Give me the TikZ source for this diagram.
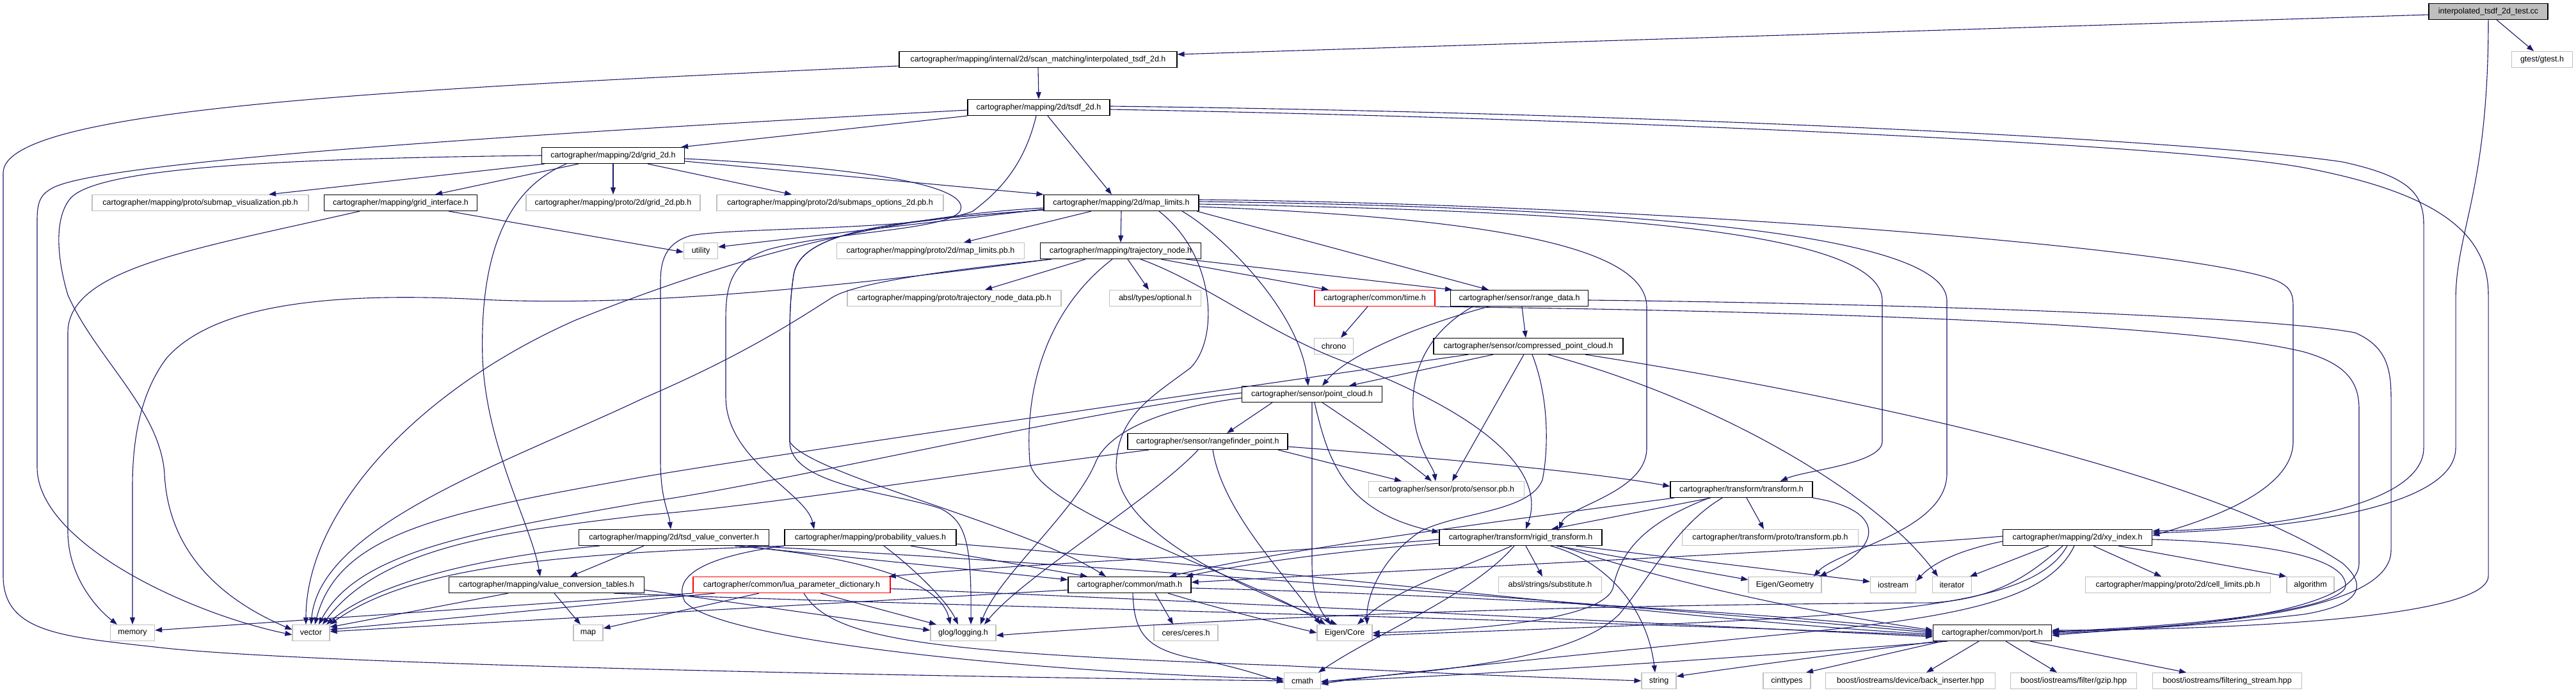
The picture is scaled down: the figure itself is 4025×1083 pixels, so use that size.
\documentclass[tikz,border=0pt]{standalone}
\usepackage{fontspec}
\setmainfont{Liberation Sans}
\usetikzlibrary{arrows.meta}
\definecolor{edgeblue}{HTML}{191970}
\definecolor{extgray}{HTML}{BFBFBF}
\tikzset{
  box/.style={rectangle, minimum height=25pt, inner sep=0pt, font=\fontsize{12.5}{14}\selectfont, line width=1.2pt},
  doc/.style={box, draw=black},
  ext/.style={box, draw=extgray},
  trunc/.style={box, draw=red},
  root/.style={box, draw=black, fill=extgray},
  dep/.style={draw=edgeblue, line width=1.1pt, -{Triangle[length=11pt,width=8pt]}}
}
\begin{document}
\begin{tikzpicture}[x=1pt,y=-1pt]
\useasboundingbox (0,0) rectangle (4025,1083);
% nodes
\node[root, minimum width=186pt] (test) at (3888,18) {interpolated\_tsdf\_2d\_test.cc};
\node[doc, minimum width=434pt] (interp) at (1622,93) {cartographer/mapping/internal/2d/scan\_matching/interpolated\_tsdf\_2d.h};
\node[ext, minimum width=95pt] (gtest) at (3972,93) {gtest/gtest.h};
\node[doc, minimum width=222pt] (tsdf) at (1623,168) {cartographer/mapping/2d/tsdf\_2d.h};
\node[doc, minimum width=223pt] (grid2d) at (958,243) {cartographer/mapping/2d/grid\_2d.h};
\node[ext, minimum width=338pt] (subvis) at (313,317) {cartographer/mapping/proto/submap\_visualization.pb.h};
\node[doc, minimum width=239pt] (gridif) at (626,317) {cartographer/mapping/grid\_interface.h};
\node[ext, minimum width=272pt] (grid2dpb) at (958,317) {cartographer/mapping/proto/2d/grid\_2d.pb.h};
\node[ext, minimum width=354pt] (submopt) at (1297,317) {cartographer/mapping/proto/2d/submaps\_options\_2d.pb.h};
\node[doc, minimum width=242pt] (maplim) at (1752,317) {cartographer/mapping/2d/map\_limits.h};
\node[ext, minimum width=53pt] (utility) at (1095,392) {utility};
\node[ext, minimum width=293pt] (maplimpb) at (1454,392) {cartographer/mapping/proto/2d/map\_limits.pb.h};
\node[doc, minimum width=251pt] (trajnode) at (1751,392) {cartographer/mapping/trajectory\_node.h};
\node[ext, minimum width=334pt] (trajdata) at (1491,466) {cartographer/mapping/proto/trajectory\_node\_data.pb.h};
\node[ext, minimum width=143pt] (optional) at (1805,466) {absl/types/optional.h};
\node[trunc, minimum width=188pt] (time) at (2148,466) {cartographer/common/time.h};
\node[doc, minimum width=215pt] (rangedata) at (2374,466) {cartographer/sensor/range\_data.h};
\node[ext, minimum width=61pt] (chrono) at (2084,541) {chrono};
\node[doc, minimum width=296pt] (compressed) at (2388,541) {cartographer/sensor/compressed\_point\_cloud.h};
\node[doc, minimum width=219pt] (pointcloud) at (2050,616) {cartographer/sensor/point\_cloud.h};
\node[doc, minimum width=250pt] (rangefinder) at (1887,690) {cartographer/sensor/rangefinder\_point.h};
\node[ext, minimum width=243pt] (sensorpb) at (2260,765) {cartographer/sensor/proto/sensor.pb.h};
\node[doc, minimum width=222pt] (transform) at (2721,765) {cartographer/transform/transform.h};
\node[doc, minimum width=297pt] (tsdval) at (1053,840) {cartographer/mapping/2d/tsd\_value\_converter.h};
\node[doc, minimum width=268pt] (probval) at (1360,840) {cartographer/mapping/probability\_values.h};
\node[doc, minimum width=254pt] (rigid) at (2376,840) {cartographer/transform/rigid\_transform.h};
\node[ext, minimum width=275pt] (transformpb) at (2766,840) {cartographer/transform/proto/transform.pb.h};
\node[doc, minimum width=233pt] (xy) at (3246,840) {cartographer/mapping/2d/xy\_index.h};
\node[doc, minimum width=305pt] (valconv) at (854,914) {cartographer/mapping/value\_conversion\_tables.h};
\node[trunc, minimum width=308pt] (lua) at (1237,914) {cartographer/common/lua\_parameter\_dictionary.h};
\node[doc, minimum width=192pt] (math) at (1765,914) {cartographer/common/math.h};
\node[ext, minimum width=161pt] (substitute) at (2422,914) {absl/strings/substitute.h};
\node[ext, minimum width=114pt] (eigengeo) at (2789,914) {Eigen/Geometry};
\node[ext, minimum width=71pt] (iostream) at (2958,914) {iostream};
\node[ext, minimum width=61pt] (iterator) at (3050,914) {iterator};
\node[ext, minimum width=289pt] (celllimits) at (3403,914) {cartographer/mapping/proto/2d/cell\_limits.pb.h};
\node[ext, minimum width=74pt] (algorithm) at (3610,914) {algorithm};
\node[ext, minimum width=69pt] (memory) at (207,989) {memory};
\node[ext, minimum width=58pt] (vector) at (486,989) {vector};
\node[ext, minimum width=46pt] (map) at (919,989) {map};
\node[ext, minimum width=102pt] (glog) at (1505,989) {glog/logging.h};
\node[ext, minimum width=100pt] (ceres) at (1853,989) {ceres/ceres.h};
\node[ext, minimum width=86pt] (eigencore) at (2101,989) {Eigen/Core};
\node[doc, minimum width=185pt] (port) at (3113,989) {cartographer/common/port.h};
\node[ext, minimum width=57pt] (cmath) at (2035,1064) {cmath};
\node[ext, minimum width=54pt] (string) at (2592,1064) {string};
\node[ext, minimum width=74pt] (cinttypes) at (2792,1064) {cinttypes};
\node[ext, minimum width=265pt] (backins) at (2985,1064) {boost/iostreams/device/back\_inserter.hpp};
\node[ext, minimum width=197pt] (gzip) at (3240,1064) {boost/iostreams/filter/gzip.hpp};
\node[ext, minimum width=233pt] (filtstream) at (3480,1064) {boost/iostreams/filtering\_stream.hpp};

% test
\draw[dep] ([yshift=-5pt]test.west) -- ([yshift=8pt]interp.east);
\draw[dep] ([xshift=13pt]test.south) -- ([xshift=-13pt]gtest.north);
\draw[dep] (test.south) .. controls (3888,300) and (3837,360) .. (3837,470) -- (3837,700) .. controls (3837,790) and (3600,826) .. ([yshift=7pt]xy.east);
% interp
\draw[dep] (interp.south) -- (tsdf.north);
\draw[dep] ([yshift=-10pt]interp.west) .. controls (600,140) and (5,170) .. (5,270) -- (5,900) .. controls (5,990) and (100,995) .. (250,1012) .. controls (500,1040) and (1500,1058) .. (cmath.west);
% tsdf
\draw[dep] ([yshift=-4pt]tsdf.west) .. controls (900,205) and (150,250) .. (80,295) .. controls (62,305) and (58,318) .. (58,345) -- (58,730) .. controls (58,850) and (300,960) .. ([yshift=-3pt]vector.west);
\draw[dep] (tsdf.south west) -- ([xshift=-6pt]grid2d.north east);
\draw[dep] ([xshift=-4pt]tsdf.south) .. controls (1600,260) and (1560,300) .. (1520,330) .. controls (1450,360) and (1150,355) .. (1080,368) .. controls (1045,378) and (1032,400) .. (1032,440) -- (1032,720) .. controls (1032,780) and (1045,800) .. ([xshift=-5pt]tsdval.north);
\draw[dep] ([xshift=14pt]tsdf.south) -- ([xshift=-15pt]maplim.north);
\draw[dep] ([yshift=2pt]tsdf.east) .. controls (2500,175) and (3400,215) .. (3660,253) .. controls (3760,275) and (3787,300) .. (3787,350) -- (3787,700) .. controls (3787,790) and (3560,826) .. ([yshift=10pt]xy.east);
\draw[dep] ([yshift=-3pt]tsdf.east) .. controls (2500,185) and (3400,225) .. (3600,262) .. controls (3800,300) and (3888,360) .. (3888,460) -- (3888,900) .. controls (3888,965) and (3500,984) .. ([yshift=4pt]port.east);
% grid2d
\draw[dep] (grid2d.west) .. controls (400,248) and (150,265) .. (110,310) .. controls (85,340) and (88,400) .. (106,461) .. controls (150,560) and (250,640) .. (257,740) .. controls (262,850) and (330,930) .. ([yshift=5pt]vector.west);
\draw[dep] ([xshift=5pt]grid2d.south west) -- ([xshift=107pt]subvis.north);
\draw[dep] ([xshift=-54pt]grid2d.south) -- ([xshift=54pt]gridif.north);
\draw[dep] ([xshift=-73pt]grid2d.south) .. controls (780,300) and (750,420) .. (754,560) .. controls (760,700) and (830,820) .. ([xshift=-10pt]valconv.north);
\draw[dep] (grid2d.south) -- (grid2dpb.north);
\draw[dep] ([xshift=54pt]grid2d.south) -- ([xshift=-60pt]submopt.north);
\draw[dep] ([yshift=-9pt]grid2d.east) -- (maplim.north west);
\draw[dep] ([yshift=-5pt]grid2d.east) .. controls (1350,262) and (1520,290) .. (1500,330) .. controls (1480,360) and (1300,362) .. (1200,390) .. controls (1140,410) and (1134,450) .. (1134,500) -- (1134,620) .. controls (1134,720) and (1260,770) .. ([xshift=-88pt]probval.north);
% grid interface
\draw[dep] ([xshift=-64pt]gridif.south) .. controls (300,390) and (106,420) .. (106,520) -- (106,830) .. controls (106,900) and (150,950) .. ([xshift=-24pt]memory.north);
\draw[dep] ([xshift=75pt]gridif.south) -- ([yshift=-2pt]utility.west);
% map limits
\draw[dep] ([yshift=-10pt]maplim.west) -- ([yshift=6pt]utility.east);
\draw[dep] ([xshift=-47pt]maplim.south) -- ([xshift=52pt]maplimpb.north);
\draw[dep] (maplim.south) -- (trajnode.north);
\draw[dep] ([yshift=-8pt]maplim.west) .. controls (1350,340) and (1100,420) .. (900,500) .. controls (650,610) and (478,800) .. ([xshift=-8pt]vector.north);
\draw[dep] ([yshift=-11pt]maplim.west) .. controls (1400,345) and (1250,360) .. (1240,430) .. controls (1234,470) and (1234,500) .. (1234,540) -- (1234,690) .. controls (1234,760) and (1400,770) .. (1470,795) .. controls (1510,815) and (1518,850) .. ([xshift=12pt]glog.north);
\draw[dep] ([yshift=-11pt]maplim.west) .. controls (1400,345) and (1250,360) .. (1240,430) .. controls (1234,470) and (1234,500) .. (1234,540) -- (1234,690) .. controls (1260,740) and (1600,820) .. ([xshift=-37pt]math.north);
\draw[dep] ([xshift=59pt]maplim.south) .. controls (1900,400) and (1905,530) .. (1860,575) .. controls (1800,620) and (1745,650) .. (1744,730) .. controls (1750,840) and (1950,920) .. ([xshift=-12pt]eigencore.north);
\draw[dep] ([xshift=95pt]maplim.south) .. controls (1900,360) and (2030,480) .. ([xshift=-6pt]pointcloud.north);
\draw[dep] ([xshift=118pt]maplim.south) -- ([xshift=-48pt]rangedata.north);
\draw[dep] ([yshift=-6pt]maplim.east) .. controls (2300,340) and (2573,380) .. (2573,480) -- (2573,700) .. controls (2573,770) and (2450,790) .. ([xshift=60pt]rigid.north);
\draw[dep] ([yshift=-2pt]maplim.east) .. controls (2500,330) and (2941,360) .. (2941,470) -- (2941,690) .. controls (2941,725) and (2820,735) .. ([xshift=61pt]transform.north);
\draw[dep] ([yshift=2pt]maplim.east) .. controls (2600,325) and (3042,370) .. (3042,470) -- (3042,740) .. controls (3042,830) and (2870,860) .. ([xshift=45pt]eigengeo.north);
\draw[dep] ([yshift=5pt]maplim.east) .. controls (2600,320) and (3450,390) .. (3560,440) .. controls (3580,450) and (3583,460) .. (3583,480) -- (3583,690) .. controls (3583,770) and (3440,815) .. ([yshift=3pt]xy.east);
% trajectory node
\draw[dep] ([xshift=-110pt]trajnode.south) .. controls (1300,450) and (1000,480) .. (751,468) .. controls (500,455) and (330,480) .. (260,560) .. controls (215,620) and (207,700) .. (207,760) -- (memory.north);
\draw[dep] ([xshift=-108pt]trajnode.south) .. controls (1500,420) and (1340,440) .. (1300,465) .. controls (1230,510) and (1150,560) .. (1006,622) .. controls (800,720) and (500,820) .. ([xshift=0pt]vector.north);
\draw[dep] ([xshift=-55pt]trajnode.south) -- ([xshift=48pt]trajdata.north);
\draw[dep] ([xshift=11pt]trajnode.south) -- ([xshift=-10pt]optional.north);
\draw[dep] ([xshift=63pt]trajnode.south) -- ([xshift=-72pt]time.north);
\draw[dep] ([xshift=102pt]trajnode.south) -- ([xshift=-105pt]rangedata.north);
\draw[dep] ([xshift=-13pt]trajnode.south) .. controls (1640,480) and (1600,600) .. (1609,722) .. controls (1620,800) and (1950,900) .. ([xshift=-30pt]eigencore.north);
\draw[dep] ([xshift=31pt]trajnode.south) .. controls (1880,440) and (1980,520) .. (2100,565) .. controls (2300,640) and (2420,730) .. ([xshift=8pt]rigid.north);
% time
\draw[dep] ([xshift=-11pt]time.south) -- ([xshift=11pt]chrono.north);
\draw[dep] (time.south east) .. controls (2700,485) and (3400,500) .. (3600,550) .. controls (3670,570) and (3686,600) .. (3686,640) -- (3686,880) .. controls (3686,960) and (3400,982) .. ([yshift=-1pt]port.east);
% range data
\draw[dep] ([xshift=4pt]rangedata.south) -- ([xshift=-4pt]compressed.north);
\draw[dep] ([xshift=-48pt]rangedata.south) .. controls (2230,505) and (2110,550) .. ([xshift=16pt]pointcloud.north);
\draw[dep] ([xshift=-73pt]rangedata.south) .. controls (2230,520) and (2205,580) .. (2208,640) .. controls (2212,700) and (2240,730) .. ([xshift=-17pt]sensorpb.north);
\draw[dep] ([yshift=-3pt]rangedata.east) .. controls (3000,475) and (3550,495) .. (3680,520) .. controls (3725,540) and (3736,570) .. (3736,620) -- (3736,860) .. controls (3736,960) and (3420,980) .. ([yshift=1pt]port.east);
% compressed
\draw[dep] ([xshift=-94pt]compressed.south) .. controls (1700,640) and (1200,712) .. (1006,745) .. controls (700,800) and (530,830) .. ([xshift=6pt]vector.north);
\draw[dep] ([xshift=-55pt]compressed.south) -- ([xshift=58pt]pointcloud.north);
\draw[dep] ([xshift=-7pt]compressed.south) -- ([xshift=9pt]sensorpb.north);
\draw[dep] ([xshift=6pt]compressed.south) .. controls (2420,620) and (2420,700) .. (2410,750) .. controls (2390,800) and (2280,800) .. (2220,830) .. controls (2160,870) and (2135,930) .. ([xshift=35pt]eigencore.north);
\draw[dep] ([xshift=31pt]compressed.south) .. controls (2700,630) and (2940,780) .. ([xshift=-22pt]iterator.north);
\draw[dep] ([xshift=89pt]compressed.south) .. controls (2900,620) and (3450,740) .. (3660,880) .. controls (3700,915) and (3690,945) .. (3600,960) .. controls (3450,978) and (3300,984) .. ([yshift=-4pt]port.east);
% point cloud
\draw[dep] ([yshift=2pt]pointcloud.west) .. controls (1700,640) and (1200,760) .. (1006,785) .. controls (750,830) and (560,860) .. ([xshift=12pt]vector.north);
\draw[dep] ([xshift=-62pt]pointcloud.south) -- ([xshift=30pt]rangefinder.north);
\draw[dep] ([xshift=16pt]pointcloud.south) .. controls (2140,678) and (2200,722) .. ([xshift=-23pt]sensorpb.north);
\draw[dep] (pointcloud.south) -- (2050,880) .. controls (2050,930) and (2060,950) .. ([xshift=-22pt]eigencore.north);
\draw[dep] ([xshift=4pt]pointcloud.south) .. controls (2075,720) and (2100,800) .. ([yshift=8pt]rigid.west);
\draw[dep] ([yshift=-6pt]pointcloud.west) .. controls (1800,640) and (1730,680) .. (1712,722) .. controls (1680,800) and (1560,900) .. ([xshift=27pt]glog.north);
% rangefinder
\draw[dep] ([xshift=-92pt]rangefinder.south) .. controls (1500,740) and (1200,790) .. (1006,805) .. controls (800,830) and (600,850) .. ([xshift=18pt]vector.north);
\draw[dep] ([xshift=110pt]rangefinder.south) -- ([xshift=-70pt]sensorpb.north);
\draw[dep] ([yshift=-8pt]rangefinder.east) .. controls (2300,720) and (2500,740) .. ([yshift=5pt]transform.west);
\draw[dep] ([xshift=8pt]rangefinder.south) .. controls (1910,800) and (2010,900) .. ([xshift=-38pt]eigencore.north);
\draw[dep] ([xshift=-15pt]rangefinder.south) .. controls (1800,780) and (1600,900) .. ([xshift=33pt]glog.north);
% transform
\draw[dep] ([xshift=-48pt]transform.south) -- ([xshift=48pt]rigid.north);
\draw[dep] ([xshift=8pt]transform.south) -- ([xshift=-10pt]transformpb.north);
\draw[dep] (transform.south east) .. controls (2940,795) and (2950,850) .. ([xshift=54pt]eigengeo.north);
\draw[dep] ([xshift=-50pt]transform.south) .. controls (2560,820) and (2530,870) .. (2520,920) .. controls (2500,970) and (2300,985) .. (eigencore.east);
\draw[dep] ([xshift=-30pt]transform.south) .. controls (2620,820) and (2580,900) .. (2530,960) .. controls (2450,1040) and (2200,1050) .. ([yshift=-2pt]cmath.east);
\draw[dep] ([xshift=-105pt]transform.south) .. controls (2300,820) and (2000,860) .. ([xshift=62pt]math.north);
% rigid
\draw[dep] ([xshift=-14pt]rigid.south) .. controls (2280,890) and (2180,920) .. ([xshift=20pt]eigencore.north);
\draw[dep] ([xshift=-10pt]rigid.south) .. controls (2300,930) and (2150,990) .. ([xshift=25pt]cmath.north);
\draw[dep] ([xshift=8pt]rigid.south) -- ([xshift=-12pt]substitute.north);
\draw[dep] ([xshift=47pt]rigid.south) .. controls (2520,880) and (2575,960) .. ([xshift=-6pt]string.north);
\draw[dep] ([xshift=56pt]rigid.south) -- ([yshift=8pt]eigengeo.west);
\draw[dep] ([xshift=86pt]rigid.south) -- ([yshift=5pt]iostream.west);
\draw[dep] ([xshift=62pt]rigid.south) .. controls (2640,920) and (2850,960) .. ([yshift=4pt]port.west);
\draw[dep] ([yshift=-9pt]rigid.west) .. controls (2100,860) and (1950,880) .. ([xshift=88pt]math.north);
\draw[dep] ([yshift=-3pt]rigid.west) .. controls (2000,865) and (1600,880) .. ([xshift=-3pt]lua.north east);
% xy index
\draw[dep] ([xshift=-45pt]xy.south) -- ([xshift=28pt]iterator.north);
\draw[dep] ([yshift=-6pt]xy.west) .. controls (3060,860) and (3020,880) .. ([yshift=6pt]iostream.east);
\draw[dep] ([xshift=25pt]xy.south) -- ([xshift=-26pt]celllimits.north);
\draw[dep] ([xshift=64pt]xy.south) -- (algorithm.north west);
\draw[dep] ([yshift=2pt]xy.west) .. controls (2900,858) and (2400,880) .. ([yshift=4pt]math.east);
\draw[dep] ([xshift=-23pt]xy.south) .. controls (3170,900) and (3120,935) .. (3020,942) .. controls (2500,945) and (2000,960) .. ([yshift=-4pt]glog.east);
\draw[dep] ([xshift=-16pt]xy.south) .. controls (3170,960) and (2900,965) .. ([yshift=-4pt]eigencore.east);
\draw[dep] ([xshift=-5pt]xy.south) .. controls (3200,940) and (3050,965) .. (2800,990) .. controls (2400,1030) and (2150,1055) .. ([yshift=-5pt]cmath.east);
\draw[dep] ([yshift=-3pt]xy.east) .. controls (3560,848) and (3665,875) .. (3665,915) .. controls (3665,945) and (3500,975) .. ([yshift=2pt]port.east);
% tsd value converter
\draw[dep] ([xshift=-116pt]tsdval.south) .. controls (800,865) and (600,900) .. ([xshift=24pt]vector.north);
\draw[dep] ([xshift=-47pt]tsdval.south) -- ([xshift=37pt]valconv.north);
\draw[dep] ([xshift=100pt]tsdval.south) -- ([yshift=8pt]math.west);
\draw[dep] ([xshift=115pt]tsdval.south) .. controls (1600,875) and (2600,950) .. ([yshift=0pt]port.west);
\draw[dep] ([xshift=95pt]tsdval.south) .. controls (1350,870) and (1470,910) .. ([xshift=-20pt]glog.north);
% probability values
\draw[dep] (probval.south west) .. controls (900,865) and (650,880) .. (vector.north east);
\draw[dep] (probval.south west) .. controls (1100,870) and (1050,900) .. (1070,940) .. controls (1120,1000) and (1600,1050) .. ([yshift=3pt]cmath.west);
\draw[dep] ([xshift=63pt]probval.south) -- ([xshift=-66pt]math.north);
\draw[dep] ([yshift=-10pt]probval.east) .. controls (2000,890) and (2700,975) .. ([yshift=-2pt]port.west);
\draw[dep] ([xshift=21pt]probval.south) .. controls (1430,890) and (1480,940) .. ([xshift=-8pt]glog.north);
% value conversion tables
\draw[dep] ([xshift=-60pt]valconv.south) -- ([yshift=9pt]vector.east);
\draw[dep] ([xshift=12pt]valconv.south) -- ([xshift=-12pt]map.north);
\draw[dep] ([xshift=105pt]valconv.south) .. controls (1400,945) and (2500,970) .. ([yshift=-4pt]port.west);
\draw[dep] ([yshift=-8pt]valconv.east) -- ([yshift=4pt]glog.west);
% lua
\draw[dep] (lua.south west) -- ([yshift=4pt]memory.east);
\draw[dep] ([xshift=-120pt]lua.south) -- ([yshift=5pt]vector.east);
\draw[dep] ([xshift=-51pt]lua.south) -- ([yshift=7pt]map.east);
\draw[dep] ([xshift=45pt]lua.south) -- ([xshift=-42pt]glog.north);
\draw[dep] ([xshift=19pt]lua.south) .. controls (1300,1000) and (1450,1020) .. (2000,1040) .. controls (2300,1055) and (2450,1060) .. (string.west);
\draw[dep] ([yshift=-6pt]lua.east) .. controls (2000,945) and (2600,975) .. ([yshift=-6pt]port.west);
% math
\draw[dep] ([yshift=-8pt]math.west) -- ([yshift=2pt]vector.east);
\draw[dep] ([xshift=40pt]math.south) -- ([xshift=-20pt]ceres.north);
\draw[dep] ([xshift=5pt]math.south) .. controls (1772,990) and (1790,1015) .. (1870,1030) .. controls (1930,1042) and (1970,1055) .. ([yshift=-3pt]cmath.west);
\draw[dep] ([xshift=60pt]math.south) .. controls (1900,950) and (2000,975) .. (eigencore.west);
\draw[dep] ([yshift=-5pt]math.east) .. controls (2300,930) and (2800,960) .. ([yshift=2pt]port.west);
% port
\draw[dep] ([xshift=-70pt]port.south) .. controls (2700,1030) and (2300,1055) .. ([yshift=-1pt]cmath.east);
\draw[dep] ([xshift=-85pt]port.south) .. controls (2850,1025) and (2700,1045) .. ([yshift=7pt]string.east);
\draw[dep] ([xshift=-78pt]port.south) -- ([xshift=30pt]cinttypes.north);
\draw[dep] ([xshift=-21pt]port.south) -- ([xshift=25pt]backins.north);
\draw[dep] ([xshift=21pt]port.south) -- ([xshift=-26pt]gzip.north);
\draw[dep] ([xshift=59pt]port.south) -- ([xshift=-64pt]filtstream.north);
\end{tikzpicture}
\end{document}
